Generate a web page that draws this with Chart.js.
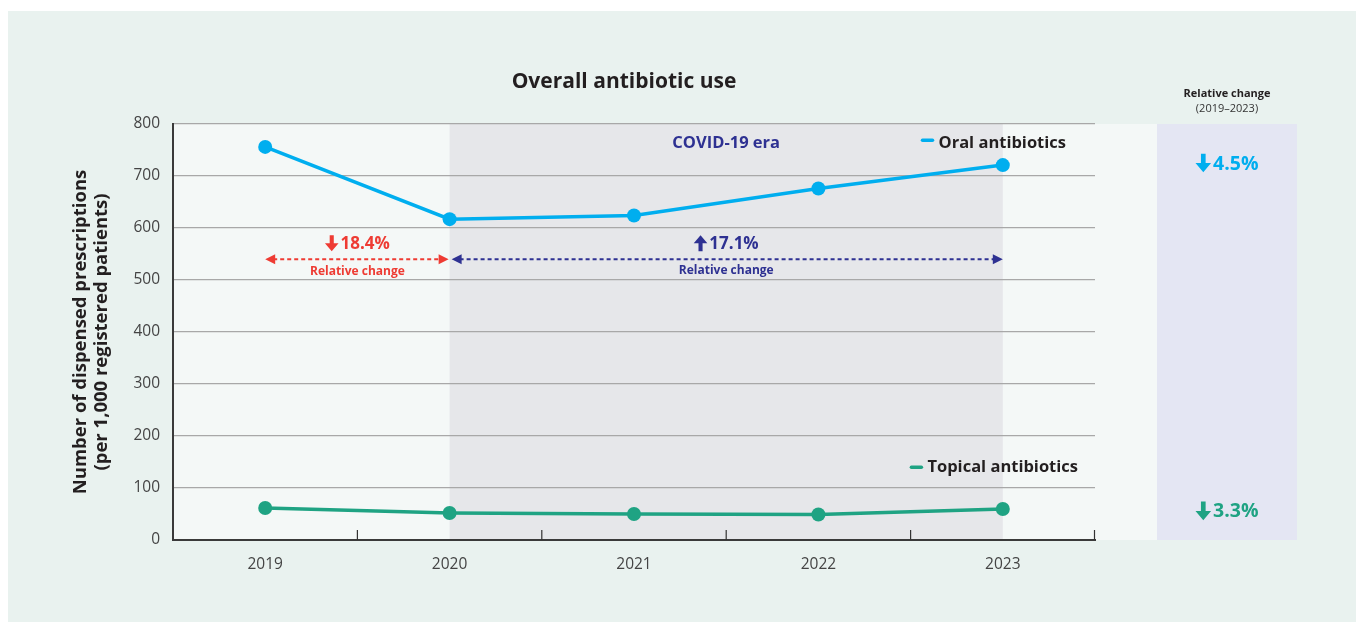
<!DOCTYPE html>
<html>
<head>
<meta charset="utf-8">
<script src="https://cdn.jsdelivr.net/npm/chart.js@4.4.1/dist/chart.umd.min.js"></script>
<style>
  html, body { margin: 0; padding: 0; background: #ffffff; }
  #wrap { width: 1359px; height: 625px; }
</style>
</head>
<body>
<div id="wrap"><canvas id="c" width="1359" height="625"></canvas></div>
<script>
// ---- data ----
const years = ['2019', '2020', '2021', '2022', '2023'];
const oralValues = [756, 617, 624, 676, 721];
const topicalValues = [61.5, 52, 50, 49, 59.5];
const yTickValues = [0, 100, 200, 300, 400, 500, 600, 700, 800];
const seriesNames = ['Oral antibiotics', 'Topical antibiotics'];
const periodChanges = ['18.4%', '17.1%'];
const overallChanges = ['4.5%', '3.3%'];

const ORAL = '#00aeef';
const TOPICAL = '#1fa383';
const RED = '#ee3b33';
const NAVY = '#2e3192';
const FONT = '"Open Sans", "DejaVu Sans", sans-serif';

function dashedArrow(ctx, x1, x2, y, color) {
  ctx.save();
  ctx.strokeStyle = color; ctx.fillStyle = color; ctx.lineWidth = 2;
  ctx.setLineDash([4, 3]);
  ctx.beginPath(); ctx.moveTo(x1 + 8, y); ctx.lineTo(x2 - 8, y); ctx.stroke();
  ctx.setLineDash([]);
  ctx.beginPath(); ctx.moveTo(x1, y); ctx.lineTo(x1 + 10, y - 5); ctx.lineTo(x1 + 10, y + 5); ctx.closePath(); ctx.fill();
  ctx.beginPath(); ctx.moveTo(x2, y); ctx.lineTo(x2 - 10, y - 5); ctx.lineTo(x2 - 10, y + 5); ctx.closePath(); ctx.fill();
  ctx.restore();
}

// bold block arrow (dir = 1 down, -1 up), centred at cx, cy
function blockArrow(ctx, cx, cy, w, h, dir, color) {
  const sw = w * 0.3, hh = h * 0.5;
  const tip = cy + dir * h / 2, back = cy - dir * h / 2, headBase = tip - dir * hh;
  ctx.save();
  ctx.fillStyle = color;
  ctx.beginPath();
  ctx.moveTo(cx - sw / 2, back);
  ctx.lineTo(cx + sw / 2, back);
  ctx.lineTo(cx + sw / 2, headBase);
  ctx.lineTo(cx + w / 2, headBase);
  ctx.lineTo(cx, tip);
  ctx.lineTo(cx - w / 2, headBase);
  ctx.lineTo(cx - sw / 2, headBase);
  ctx.closePath();
  ctx.fill();
  ctx.restore();
}

function arrowText(ctx, dir, txt, cx, cy, color, size) {
  ctx.save();
  ctx.fillStyle = color;
  ctx.textBaseline = 'middle';
  ctx.textAlign = 'left';
  const ft = 'bold ' + size + 'px ' + FONT;
  ctx.font = ft; const wt = ctx.measureText(txt).width;
  const wa = size * 0.8, gap = 2;
  const x0 = cx - (wa + gap + wt) / 2;
  blockArrow(ctx, x0 + wa / 2, cy, wa, size * 0.95, dir, color);
  ctx.fillText(txt, x0 + wa + gap, cy + 1);
  ctx.restore();
}

const decor = {
  id: 'decor',
  beforeDraw(chart) {
    const { ctx, chartArea: a, scales: { x, y } } = chart;
    ctx.save();
    ctx.fillStyle = '#ffffff'; ctx.fillRect(0, 0, chart.width, chart.height);
    ctx.fillStyle = '#e9f2ef'; ctx.fillRect(8, 11, chart.width - 11, chart.height - 14);
    const panelL = a.right + 62, panelW = 140;
    ctx.fillStyle = '#f4f8f7'; ctx.fillRect(a.left, a.top, panelL - a.left, a.bottom - a.top);
    const sx1 = x.getPixelForValue(1), sx2 = x.getPixelForValue(4);
    ctx.fillStyle = '#e6e7ea'; ctx.fillRect(sx1, a.top, sx2 - sx1, a.bottom - a.top);
    ctx.fillStyle = '#e4e6f3'; ctx.fillRect(panelL, a.top, panelW, a.bottom - a.top);
    ctx.restore();
  },
  afterDraw(chart) {
    const { ctx, chartArea: a, scales: { x, y } } = chart;
    ctx.save();
    // x tick marks (upward, at category boundaries)
    ctx.strokeStyle = '#333'; ctx.lineWidth = 1.2;
    for (let i = 0; i < years.length; i++) {
      const bx = i < years.length - 1 ? (x.getPixelForValue(i) + x.getPixelForValue(i + 1)) / 2 : a.right - 0.5;
      ctx.beginPath(); ctx.moveTo(bx, a.bottom); ctx.lineTo(bx, a.bottom - 10); ctx.stroke();
    }
    // title
    ctx.fillStyle = '#231f20'; ctx.textAlign = 'center'; ctx.textBaseline = 'middle';
    ctx.font = 'bold 21px ' + FONT;
    ctx.fillText('Overall antibiotic use', (a.left + a.right) / 2 - 10, 82);
    const x0 = x.getPixelForValue(0), x1 = x.getPixelForValue(1), x4 = x.getPixelForValue(4);
    // COVID-19 era
    ctx.fillStyle = NAVY; ctx.font = 'bold 16.5px ' + FONT;
    ctx.fillText('COVID-19 era', (x1 + x4) / 2, y.getPixelForValue(763));
    // legends
    ctx.textAlign = 'right'; ctx.fillStyle = '#231f20'; ctx.font = 'bold 16.5px ' + FONT;
    const ly1 = y.getPixelForValue(763), ly2 = y.getPixelForValue(140);
    const lx1 = a.right - 29, lx2 = a.right - 17;
    ctx.fillText(seriesNames[0], lx1, ly1);
    const w1 = ctx.measureText(seriesNames[0]).width;
    ctx.fillText(seriesNames[1], lx2, ly2);
    const w2 = ctx.measureText(seriesNames[1]).width;
    ctx.lineWidth = 3.5; ctx.lineCap = 'round';
    ctx.strokeStyle = ORAL; ctx.beginPath(); ctx.moveTo(lx1 - w1 - 16, ly1 - 3); ctx.lineTo(lx1 - w1 - 6, ly1 - 3); ctx.stroke();
    ctx.strokeStyle = TOPICAL; ctx.beginPath(); ctx.moveTo(lx2 - w2 - 16, ly2); ctx.lineTo(lx2 - w2 - 6, ly2); ctx.stroke();
    ctx.lineCap = 'butt';
    // relative change arrows
    const ay = y.getPixelForValue(540);
    dashedArrow(ctx, x0, x1 - 1, ay, RED);
    dashedArrow(ctx, x1 + 2, x4, ay, NAVY);
    arrowText(ctx, 1, periodChanges[0], (x0 + x1) / 2, ay - 16, RED, 17);
    arrowText(ctx, -1, periodChanges[1], (x1 + x4) / 2, ay - 16, NAVY, 17);
    ctx.textAlign = 'center'; ctx.textBaseline = 'middle';
    ctx.font = 'bold 12px ' + FONT;
    ctx.fillStyle = RED; ctx.fillText('Relative change', (x0 + x1) / 2, ay + 12);
    ctx.fillStyle = NAVY; ctx.fillText('Relative change', (x1 + x4) / 2, ay + 11);
    // right panel
    const pcx = a.right + 62 + 70;
    ctx.fillStyle = '#231f20';
    ctx.font = 'bold 11px ' + FONT; ctx.fillText('Relative change', pcx, 94);
    ctx.font = '11px ' + FONT; ctx.fillStyle = '#333'; ctx.fillText('(2019–2023)', pcx, 109);
    arrowText(ctx, 1, overallChanges[0], pcx, y.getPixelForValue(725), ORAL, 19.5);
    arrowText(ctx, 1, overallChanges[1], pcx, y.getPixelForValue(56), TOPICAL, 19.5);
    ctx.restore();
  }
};

new Chart(document.getElementById('c'), {
  type: 'line',
  data: {
    labels: years,
    datasets: [
      { label: seriesNames[0], data: oralValues, borderColor: ORAL, backgroundColor: ORAL,
        borderWidth: 3.5, pointRadius: 7, pointBorderWidth: 0, tension: 0 },
      { label: seriesNames[1], data: topicalValues, borderColor: TOPICAL, backgroundColor: TOPICAL,
        borderWidth: 3.5, pointRadius: 7, pointBorderWidth: 0, tension: 0 }
    ]
  },
  options: {
    responsive: false, animation: false, devicePixelRatio: 1,
    layout: { padding: { left: 58, right: 264, top: 124, bottom: 0 } },
    plugins: { legend: { display: false }, title: { display: false }, tooltip: { enabled: false } },
    scales: {
      x: {
        offset: true,
        grid: { display: false },
        border: { color: '#3a3a3a', width: 2 },
        ticks: { padding: 7, color: '#444', font: { family: FONT, size: 15.5 } },
        afterFit(s) { s.height = 85; }
      },
      y: {
        min: 0, max: 800,
        afterBuildTicks(s) { s.ticks = yTickValues.map(v => ({ value: v })); },
        ticks: { padding: 13, color: '#444', font: { family: FONT, size: 15.5 } },
        grid: { color: '#a8a8a8', lineWidth: 1.3, drawTicks: false },
        border: { color: '#3a3a3a', width: 2 },
        title: { display: true, text: ['Number of dispensed prescriptions', '(per 1,000 registered patients)'],
                 color: '#231f20', font: { family: FONT, size: 18.5, weight: 'bold', lineHeight: 1.13 }, padding: { top: 12, bottom: 0 } },
        afterFit(s) { s.width = 115; }
      }
    }
  },
  plugins: [decor]
});
</script>
</body>
</html>
